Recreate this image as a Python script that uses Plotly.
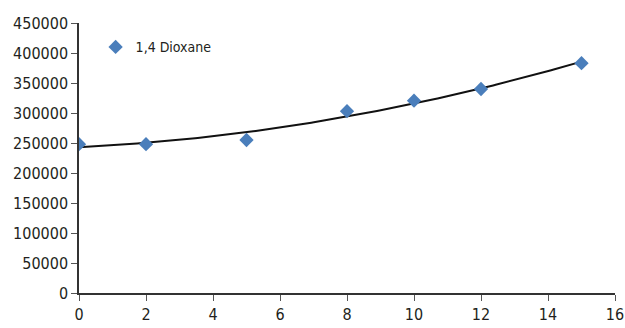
import numpy as np
import plotly.graph_objects as go

# Measured response of 1,4 Dioxane over time
time_points = [0, 2, 5, 8, 10, 12, 15]
dioxane = [248000, 248000, 255000, 303000, 320500, 340000, 383000]

x_ticks = [0, 2, 4, 6, 8, 10, 12, 14, 16]
y_ticks = [0, 50000, 100000, 150000, 200000, 250000, 300000, 350000, 400000, 450000]

# Second-order polynomial trendline through the measurements
coeffs = np.polyfit(time_points, dioxane, 2)
trend_x = np.linspace(min(time_points), max(time_points), 200)
trend_y = np.polyval(coeffs, trend_x)

font_family = "DejaVu Sans Condensed, Liberation Sans, sans-serif"

fig = go.Figure()
fig.add_trace(go.Scatter(
    x=trend_x, y=trend_y, mode="lines",
    line=dict(color="#111111", width=2),
    showlegend=False, hoverinfo="skip",
))
fig.add_trace(go.Scatter(
    x=time_points, y=dioxane, mode="markers", name="1,4 Dioxane",
    marker=dict(symbol="diamond", size=11, color="#4A7EBB"),
))

axis_common = dict(
    showgrid=False, zeroline=False, showline=True, automargin=False,
    linecolor="#333333", linewidth=1.5,
    ticks="outside", ticklen=6, tickcolor="#555555", tickwidth=1,
    tickformat="d",
    tickfont=dict(family=font_family, size=16, color="#231F20"),
)

fig.update_layout(
    width=625, height=328,
    margin=dict(l=79, r=10, t=23, b=35),
    paper_bgcolor="white", plot_bgcolor="white",
    font=dict(family=font_family, color="#231F20"),
    xaxis=dict(range=[0, 16], tickvals=x_ticks, **axis_common),
    yaxis=dict(range=[0, 450000], tickvals=y_ticks, **axis_common),
    legend=dict(
        x=0.031, y=0.91, xanchor="left", yanchor="middle",
        bgcolor="rgba(0,0,0,0)",
        font=dict(family=font_family, size=14, color="#231F20"),
    ),
)

fig.write_html("out.html")
